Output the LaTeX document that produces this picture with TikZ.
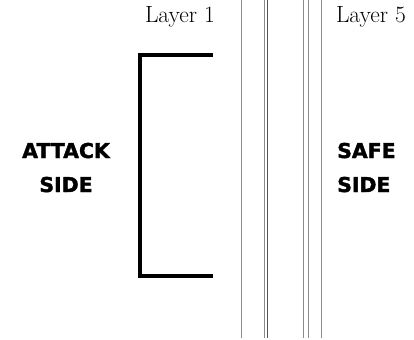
\documentclass[tikz,border=0pt]{standalone}
\usepackage{fontspec}
\newfontfamily\seitenfont[BoldFeatures={FakeBold=1.8}]{DejaVu Sans}
\tikzset{
	schicht/.style={line width=1bp, draw={rgb:black,1;white,1.2}},
	seite/.style={font=\seitenfont\bfseries\fontsize{20.5}{24}\selectfont, inner sep=0pt},
	ebene/.style={font=\fontsize{23.5}{26}\selectfont, inner sep=0pt, anchor=base}
}
\begin{document}
\begin{tikzpicture}[x=1bp, y=-1bp]
	\useasboundingbox (0,0) rectangle (414,340);
	% Schichten
	\foreach \x in {241,264,303,308,321}
		\draw[schicht] (\x, 0) -- (\x, 338);
	\draw[schicht, draw={rgb:black,2;white,1}] (267, 0) -- (267, 338);
	% Beschriftungen oben
	\node[ebene] (layerA) at (180, 22.5) {Layer \oldstylenums{1}};
	\node[ebene] (layerE) at (371, 22.5) {Layer \oldstylenums{5}};
	% Klammer
	\draw[line width=4bp] (213, 55) -- (140, 55) -- (140, 276) -- (213, 276);
	% Seiten
	\node[seite, anchor=base] (attack) at (66, 158) {ATTACK};
	\node[seite, anchor=base] (attackside) at (66, 192) {SIDE};
	\node[seite, anchor=base west] (safe) at (337, 158) {SAFE};
	\node[seite, anchor=base west] (safeside) at (337, 192) {SIDE};
\end{tikzpicture}
\end{document}
